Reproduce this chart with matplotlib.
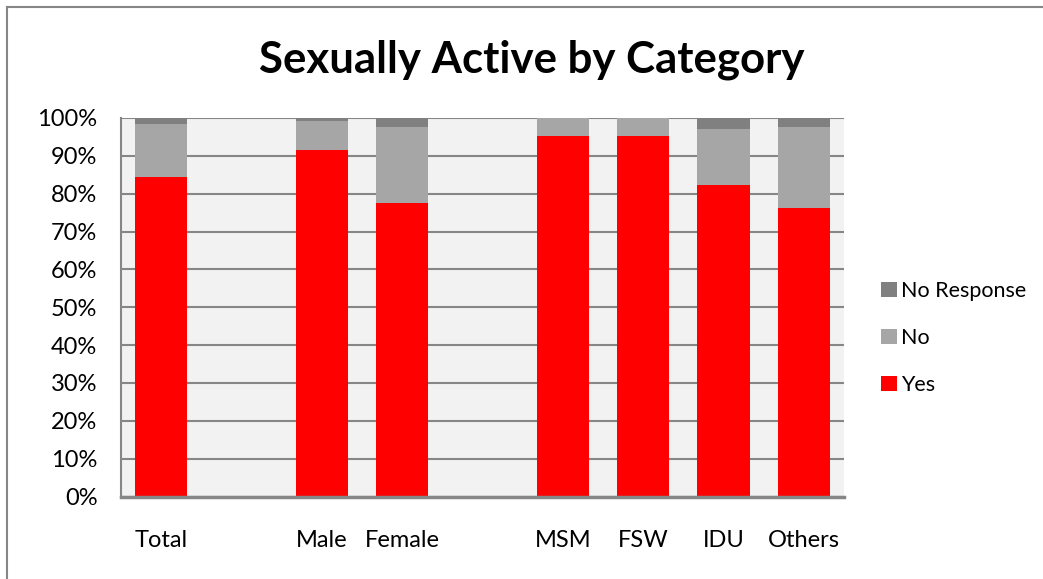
import matplotlib
matplotlib.use("Agg")
import numpy as np
from matplotlib import pyplot as plt
from matplotlib.lines import Line2D

# data (percent); blank slots keep the Excel gaps
categories = ["Total", "", "Male", "Female", "", "MSM", "FSW", "IDU", "Others"]
yes = [84.5, 0, 91.5, 77.5, 0, 95.3, 95.3, 82.2, 76.2]
no = [13.9, 0, 7.8, 20.1, 0, 4.7, 4.7, 14.9, 21.3]
no_response = [1.6, 0, 0.7, 2.4, 0, 0.0, 0.0, 2.9, 2.5]

plt.rcParams['font.family'] = ['Lato', 'DejaVu Sans']

fig = plt.figure(figsize=(10.43, 5.79), dpi=100)
ax = fig.add_axes([121 / 1043, 1 - 496.5 / 579, 723 / 1043, 378.5 / 579])
ax.set_facecolor("#F2F2F2")

x = np.arange(len(categories))
w = 0.65
ax.bar(x, yes, w, color="#FF0000", label="Yes", zorder=3)
ax.bar(x, no, w, bottom=yes, color="#A6A6A6", label="No", zorder=3)
bottom2 = [a + b for a, b in zip(yes, no)]
ax.bar(x, no_response, w, bottom=bottom2, color="#808080", label="No Response", zorder=3)

ax.set_xlim(-0.5, len(categories) - 0.5)
ax.set_ylim(0, 100)
ax.set_yticks(range(0, 101, 10))
ax.set_yticklabels([f"{v}%" for v in range(0, 101, 10)], fontsize=17)
ax.set_xticks(x)
ax.set_xticklabels(categories, fontsize=17)
ax.tick_params(axis="x", length=0, pad=24)
ax.tick_params(axis="y", length=0, pad=17)
ax.grid(axis="y", color="#868686", linewidth=1.5, zorder=1)

for s in ["top", "right"]:
    ax.spines[s].set_visible(False)
ax.spines["left"].set_color("#868686")
ax.spines["left"].set_linewidth(1.5)
ax.spines["bottom"].set_color("#868686")
ax.spines["bottom"].set_linewidth(2.5)
ax.spines["bottom"].set_zorder(4)

handles, labels = ax.get_legend_handles_labels()
ax.legend(handles[::-1], labels[::-1], loc="center left", bbox_to_anchor=(1.025, 0.418),
          frameon=False, fontsize=15.5, handlelength=0.7, handleheight=0.7,
          handletextpad=0.2, labelspacing=1.25)

fig.text(532 / 1043, 1 - 60 / 579, "Sexually Active by Category", ha="center", va="center",
         fontsize=31.5, fontweight="bold")

# outer chart border (only left and top are visible in the crop)
fig.add_artist(Line2D([7 / 1043, 7 / 1043], [0, 1 - 7 / 579], transform=fig.transFigure,
                      color="#868686", linewidth=1.5))
fig.add_artist(Line2D([7 / 1043, 1], [1 - 7 / 579, 1 - 7 / 579], transform=fig.transFigure,
                      color="#868686", linewidth=1.5))

fig.savefig("out.png", dpi=100)
